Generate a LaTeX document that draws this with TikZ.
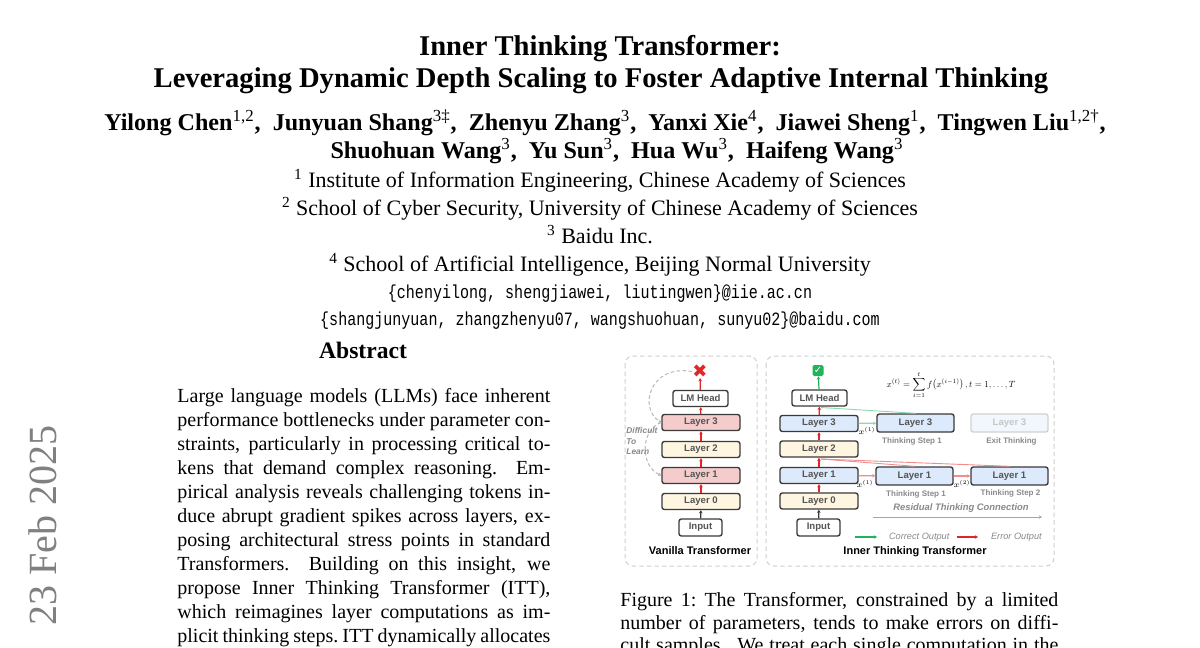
\RequirePackage{fix-cm}
\documentclass[tikz,border=0pt]{standalone}
\usepackage{amsmath}
\usepackage{fontspec}
\setmainfont{Liberation Serif}
\setsansfont{Liberation Sans}
\setmonofont{Liberation Mono}
\newfontfamily\symfont{DejaVu Sans}
\newfontfamily\mailfont{Liberation Mono}[FakeStretch=0.8]
\usetikzlibrary{calc}
\usetikzlibrary{arrows.meta, positioning}

\definecolor{edge}{HTML}{3A3A3A}
\definecolor{boxtext}{HTML}{555555}
\definecolor{hotfill}{HTML}{F4CCCC}
\definecolor{calmfill}{HTML}{FFF6E2}
\definecolor{coolfill}{HTML}{DCEAFB}
\definecolor{panelgray}{HTML}{CFCFCF}
\definecolor{notegray}{HTML}{8A8A8A}
\definecolor{errred}{HTML}{E02626}
\definecolor{softred}{HTML}{F08E8E}
\definecolor{okgreen}{HTML}{22B35A}
\definecolor{softgreen}{HTML}{8FD9AE}

\begin{document}
\begin{tikzpicture}[x=0.5pt,y=-0.5pt,
    panel/.style={draw=panelgray,dash pattern=on 2.2pt off 1.6pt,line width=0.5pt,rounded corners=4pt},
    layer/.style={draw=edge,line width=0.7pt,rounded corners=1.2pt,inner sep=0pt,
      minimum width=39pt,minimum height=8pt,font=\fontsize{4.8}{5}\selectfont\sffamily\bfseries,text=boxtext},
    hot/.style={layer,fill=hotfill},
    calm/.style={layer,fill=calmfill},
    cool/.style={layer,fill=coolfill},
    stepbox/.style={cool,minimum width=38.5pt,minimum height=9pt},
    ghost/.style={stepbox,draw=black!18,fill=coolfill!40,text=black!22},
    headbox/.style={layer,fill=white,minimum width=27.5pt},
    inbox/.style={layer,fill=white,minimum width=21.5pt,minimum height=8.5pt},
    tip/.style={-{Stealth[length=1.6pt,width=1.8pt]}},
    up/.style={draw=errred,line width=0.6pt,tip},
    upgray/.style={draw=edge,line width=0.6pt,tip},
    redlink/.style={draw=softred,line width=0.6pt,tip},
    greenlink/.style={draw=softgreen,line width=0.6pt,tip},
    lose/.style={draw=black!28,dash pattern=on 1.8pt off 1.2pt,line width=0.5pt,tip},
    panelname/.style={font=\fontsize{5.5}{6}\selectfont\sffamily\bfseries},
    stepnote/.style={font=\fontsize{4}{5}\selectfont\sffamily\bfseries,text=notegray},
    legend/.style={font=\fontsize{4.6}{5}\selectfont\sffamily\itshape,text=notegray},
    xlabel/.style={font=\fontsize{4}{5}\selectfont,inner sep=0pt},
    title/.style={anchor=base,font=\fontsize{14.3}{17}\selectfont\bfseries},
    author/.style={anchor=base,font=\fontsize{12.05}{14}\selectfont\bfseries},
    affil/.style={anchor=base,font=\fontsize{11}{13}\selectfont},
    mail/.style={anchor=base,font=\fontsize{9.4}{11}\mailfont},
    textline/.style={anchor=base west,inner sep=0pt,font=\fontsize{10}{12}\selectfont}]

  \useasboundingbox (0,0) rectangle (1200,648);
  \clip (0,0) rectangle (1200,648);
  \fill[white] (0,0) rectangle (1200,648);

  % title block
  \node[title] (t1) at (600,55.6) {Inner Thinking Transformer:};
  \node[title] (t2) at (601,87.6) {Leveraging Dynamic Depth Scaling to Foster Adaptive Internal Thinking};
  \node[author] (a1) at (605,130) {Yilong Chen\textsuperscript{\mdseries 1,2},\ \ Junyuan Shang\textsuperscript{\mdseries 3‡},\ \ Zhenyu Zhang\textsuperscript{\mdseries 3},\ \ Yanxi Xie\textsuperscript{\mdseries 4},\ \ Jiawei Sheng\textsuperscript{\mdseries 1},\ \ Tingwen Liu\textsuperscript{\mdseries 1,2†},};
  \node[author] (a2) at (617,158) {Shuohuan Wang\textsuperscript{\mdseries 3},\ \ Yu Sun\textsuperscript{\mdseries 3},\ \ Hua Wu\textsuperscript{\mdseries 3},\ \ Haifeng Wang\textsuperscript{\mdseries 3}};
  \node[affil] (f1) at (600,187) {\textsuperscript{1} Institute of Information Engineering, Chinese Academy of Sciences};
  \node[affil] (f2) at (600,215) {\textsuperscript{2} School of Cyber Security, University of Chinese Academy of Sciences};
  \node[affil] (f3) at (600,243) {\textsuperscript{3} Baidu Inc.};
  \node[affil] (f4) at (600,271) {\textsuperscript{4} School of Artificial Intelligence, Beijing Normal University};
  \node[mail] (m1) at (600,298) {\{chenyilong, shengjiawei, liutingwen\}@iie.ac.cn};
  \node[mail] (m2) at (600,325) {\{shangjunyuan, zhangzhenyu07, wangshuohuan, sunyu02\}@baidu.com};

  % arXiv stamp
  \node[rotate=90,anchor=base east,inner sep=0pt,text=black!50,font=\fontsize{20}{20}\selectfont] (stamp) at (56,425) {[cs.CL]\hspace{18pt}23 Feb 2025};

  % abstract
  \node[anchor=base,font=\fontsize{11.8}{14}\selectfont\bfseries] (abs) at (363,358) {Abstract};
  \foreach \ln [count=\k from 0] in {%
      {Large language models (LLMs) face inherent},
      {performance bottlenecks under parameter con-},
      {straints, particularly in processing critical to-},
      {kens that demand complex reasoning.\ \ Em-},
      {pirical analysis reveals challenging tokens in-},
      {duce abrupt gradient spikes across layers, ex-},
      {posing architectural stress points in standard},
      {Transformers.\ \ Building on this insight, we},
      {propose Inner Thinking Transformer (ITT),},
      {which reimagines layer computations as im-},
      {plicit thinking steps.\ ITT dynamically allocates}}
    \node[textline] (ab\k) at (177,{402.6+24*\k}) {\makebox[186.5pt][s]{\ln}};

  % caption
  \foreach \ln [count=\k from 0] in {%
      {Figure 1:\ The Transformer, constrained by a limited},
      {number of parameters, tends to make errors on diffi-},
      {cult samples.\ \ We treat each single computation in the}}
    \node[textline] (cap\k) at (620,{606.6+22.6*\k}) {\makebox[219pt][s]{\ln}};

  % figure panels
  \draw[panel] (625,356) rectangle (757,566);
  \draw[panel] (766,356) rectangle (1054,566);

  % vanilla transformer
  \node[text=errred,font=\fontsize{9}{9}\symfont,inner sep=0pt] (vx) at (700,371.5) {✖};
  \node[headbox] (vLM) at (700.5,398.5) {LM Head};
  \node[hot]  (vL3) at (701,422.5) {Layer 3};
  \node[calm] (vL2) at (701,449.5) {Layer 2};
  \node[hot]  (vL1) at (701,475.5) {Layer 1};
  \node[calm] (vL0) at (701,501.5) {Layer 0};
  \node[inbox] (vIn) at (700.5,527.5) {Input};
  \node[panelname] (vname) at (700,551) {Vanilla Transformer};
  \draw[upgray] (vIn) -- (vL0);
  \foreach \a/\b in {vL0/vL1,vL1/vL2,vL2/vL3,vL3/vLM,vLM/vx}
    \draw[up] (\a) -- (\b);
  \draw[lose] (vx.west) .. controls (650,364) and (638,408) .. (vL3.west);
  \draw[lose] (vL3.west) .. controls (640,430) and (640,466) .. (vL1.west);
  \node[anchor=west,align=left,inner sep=0pt,text=notegray,
    font=\fontsize{4.2}{5.25}\selectfont\sffamily\bfseries\itshape] (hard) at (626,441) {Difficult\\To\\Learn};

  % inner thinking transformer
  \node[fill=okgreen,rounded corners=0.8pt,minimum size=5.5pt,inner sep=0pt,text=white,
    font=\fontsize{5}{5}\symfont\bfseries] (ck) at (818,370.5) {✓};
  \node[headbox] (iLM) at (819.5,398) {LM Head};
  \node[cool] (iL3) at (819,423.5) {Layer 3};
  \node[calm] (iL2) at (819,449) {Layer 2};
  \node[cool] (iL1) at (819,475.5) {Layer 1};
  \node[calm] (iL0) at (819,501) {Layer 0};
  \node[inbox] (iIn) at (818.5,527.5) {Input};
  \node[panelname] (iname) at (915,552) {Inner Thinking Transformer};
  \draw[upgray] (iIn) -- (iL0);
  \foreach \a/\b in {iL0/iL1,iL1/iL2,iL2/iL3,iL3/iLM}
    \draw[up] (\a) -- (\b);
  \draw[draw=okgreen,line width=0.6pt,tip] (iLM) -- (ck);

  \node[inner sep=0pt] (eq) at (951,385)
    {\scalebox{0.45}{\fontsize{10}{12}\selectfont$\displaystyle x^{(t)}=\sum_{i=1}^{t} f\bigl(x^{(i-1)}\bigr)\,, t=1,\dots,T$}};

  \node[stepbox] (s3a) at (915.5,423) {Layer 3};
  \node[ghost]   (s3x) at (1009.5,423) {Layer 3};
  \node[stepbox] (s1a) at (914.5,476) {Layer 1};
  \node[stepbox] (s1b) at (1009.5,476) {Layer 1};
  \node[stepnote] (n3a) at (912,441) {Thinking Step 1};
  \node[stepnote] (n3x) at (1011.5,441) {Exit Thinking};
  \node[stepnote] (n1a) at (916,494) {Thinking Step 1};
  \node[stepnote] (n1b) at (1010.5,493) {Thinking Step 2};

  \coordinate (jt3) at (821,407.5);
  \coordinate (jt1) at (821,459);
  \draw[greenlink] (iL3) -- (s3a);
  \draw[softgreen,line width=0.45pt] (s3a.north) -- (jt3);
  \draw[redlink] (iL1) -- (s1a);
  \draw[redlink] (s1a) -- (s1b);
  \draw[softred,line width=0.45pt] (s1a.north) -- (jt1);
  \draw[softred,line width=0.45pt] (s1b.north) -- (jt1);
  \node[xlabel] (x3) at (867,431) {$x^{(1)}$};
  \node[xlabel] (x1) at (865,484) {$x^{(1)}$};
  \node[xlabel] (x2) at (962,484) {$x^{(2)}$};

  \node[legend,font=\fontsize{4.7}{5}\selectfont\sffamily\bfseries\itshape] (res) at (961,508) {Residual Thinking Connection};
  \coordinate (ra) at (873,517);
  \coordinate (rb) at (1042,517);
  \draw[draw=black!35,line width=0.5pt,tip] (ra) -- (rb);

  \coordinate (ga) at (855,537);
  \coordinate (gb) at (877,537);
  \draw[draw=okgreen,line width=0.6pt,tip] (ga) -- (gb);
  \node[legend,anchor=west] (gl) at (882,537) {Correct Output};
  \coordinate (ea) at (957,537);
  \coordinate (eb) at (978,537);
  \draw[up] (ea) -- (eb);
  \node[legend,anchor=west] (el) at (984,537) {Error Output};
\end{tikzpicture}
\end{document}
